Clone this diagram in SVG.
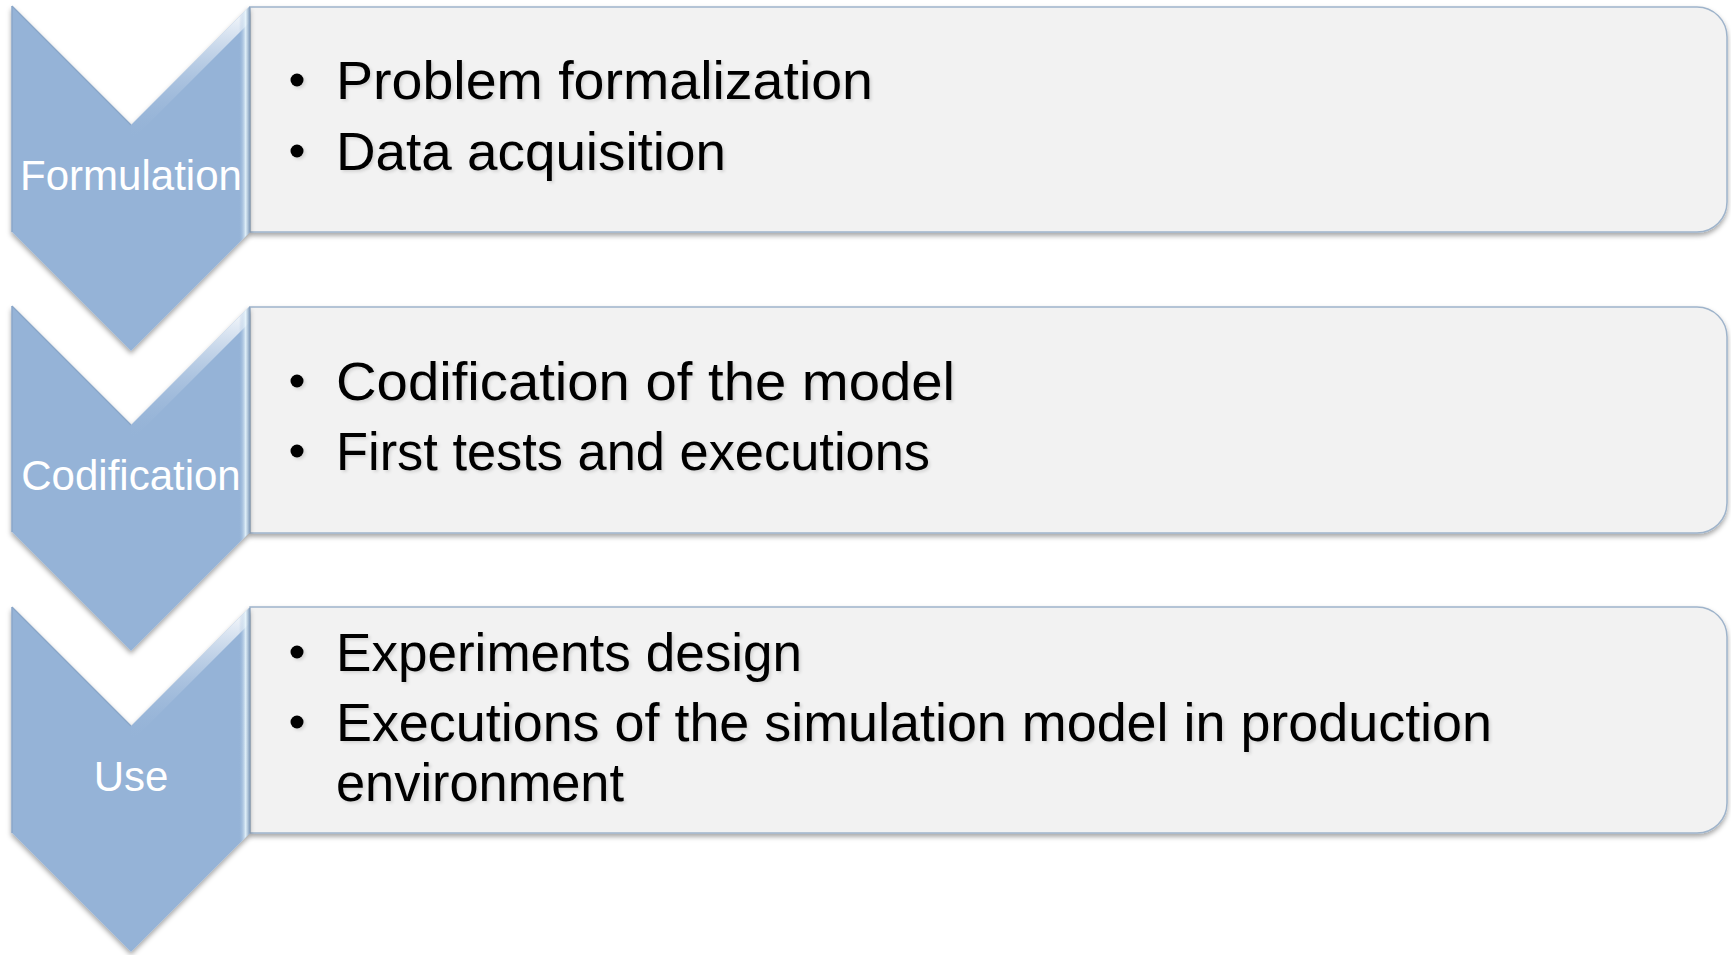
<svg xmlns="http://www.w3.org/2000/svg" width="1731" height="955" viewBox="0 0 1731 955">
<style>
.box{fill:#f2f2f2;stroke:#9fb4cb;stroke-width:1.5}
.chev{fill:#95b3d7}
.lbl{font-family:"Liberation Sans",Arial,sans-serif;font-size:42px;fill:#ffffff;text-anchor:middle}
.txt{font-family:"Liberation Sans",Arial,sans-serif;font-size:53px;fill:#000000}
.dot{fill:#000000}
</style>
<defs>
<filter id="sh" x="-5%" y="-10%" width="110%" height="125%">
<feDropShadow dx="0" dy="3" stdDeviation="2.5" flood-color="#000" flood-opacity="0.35"/>
</filter>
<filter id="tsh" x="-5%" y="-20%" width="110%" height="150%">
<feDropShadow dx="2" dy="2" stdDeviation="1.5" flood-color="#000" flood-opacity="0.12"/>
</filter>
<linearGradient id="vr" x1="0" y1="0" x2="1" y2="0">
<stop offset="0" stop-color="#95b3d7" stop-opacity="0"/>
<stop offset="0.6" stop-color="#e6f4fb" stop-opacity="0.9"/>
<stop offset="1" stop-color="#7d98b8"/>
</linearGradient>
<linearGradient id="nh" x1="0" y1="1" x2="0" y2="0">
<stop offset="0" stop-color="#95b3d7" stop-opacity="0"/>
<stop offset="1" stop-color="#ffffff" stop-opacity="1"/>
</linearGradient>
<symbol id="chevron" overflow="visible">
<path class="chev" d="M12,0 L131,119 L250,0 L250,226 L131,345 L12,226 Z"/>
<path d="M131,119 L250,0 L250,16 L131,135 Z" fill="url(#nh)"/>
<path d="M239,11 L250,0 L250,226 L239,237 Z" fill="url(#vr)"/>
<path d="M12,0 L131,119" stroke="#8aa6c8" stroke-width="1.2" fill="none"/>
<path d="M12,0 L12,226" stroke="#8aa6c8" stroke-width="1.5" fill="none"/>
</symbol>
</defs>

<g id="connectors"></g>

<g id="step1">
<path class="box" filter="url(#sh)" d="M250,7 H1697 A30,30 0 0 1 1727,37 V202 A30,30 0 0 1 1697,232 H250 Z"/>
<use href="#chevron" x="0" y="6" filter="url(#sh)"/>
<text class="lbl" x="131" y="190">Formulation</text>
<g filter="url(#tsh)">
<circle class="dot" cx="297" cy="80" r="6.5"/>
<text class="txt" x="336" y="99" textLength="537" lengthAdjust="spacingAndGlyphs">Problem formalization</text>
<circle class="dot" cx="297" cy="151" r="6.5"/>
<text class="txt" x="336" y="170" textLength="390" lengthAdjust="spacingAndGlyphs">Data acquisition</text>
</g>
</g>

<g id="step2">
<path class="box" filter="url(#sh)" d="M250,307 H1697 A30,30 0 0 1 1727,337 V503 A30,30 0 0 1 1697,533 H250 Z"/>
<use href="#chevron" x="0" y="306" filter="url(#sh)"/>
<text class="lbl" x="131" y="490">Codification</text>
<g filter="url(#tsh)">
<circle class="dot" cx="297" cy="381" r="6.5"/>
<text class="txt" x="336" y="400" textLength="619" lengthAdjust="spacingAndGlyphs">Codification of the model</text>
<circle class="dot" cx="297" cy="451" r="6.5"/>
<text class="txt" x="336" y="470" textLength="594" lengthAdjust="spacingAndGlyphs">First tests and executions</text>
</g>
</g>

<g id="step3">
<path class="box" filter="url(#sh)" d="M250,607 H1697 A30,30 0 0 1 1727,637 V803 A30,30 0 0 1 1697,833 H250 Z"/>
<use href="#chevron" x="0" y="607" filter="url(#sh)"/>
<text class="lbl" x="131" y="791">Use</text>
<g filter="url(#tsh)">
<circle class="dot" cx="297" cy="652" r="6.5"/>
<text class="txt" x="336" y="671" textLength="466" lengthAdjust="spacingAndGlyphs">Experiments design</text>
<circle class="dot" cx="297" cy="722" r="6.5"/>
<text class="txt" x="336" y="741" textLength="1156" lengthAdjust="spacingAndGlyphs">Executions of the simulation model in production</text>
<text class="txt" x="336" y="801" textLength="288" lengthAdjust="spacingAndGlyphs">environment</text>
</g>
</g>
</svg>
